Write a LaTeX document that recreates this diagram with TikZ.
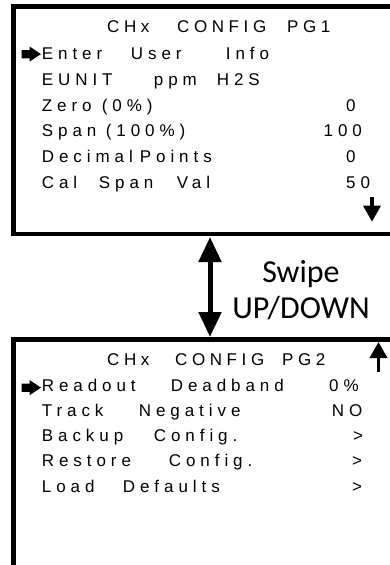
\documentclass[tikz,border=0pt]{standalone}
\usepackage{fontspec}
\setmainfont{Liberation Sans}
\newfontfamily\lcdfont[LetterSpace=29]{Liberation Sans}
\newfontfamily\lcdtitlefont[LetterSpace=27]{Liberation Sans}
\newfontfamily\swipefont{Carlito}
\newcommand\lcdword[2]{\makebox[#1pt][l]{#2}}
\usetikzlibrary{arrows.meta}

\tikzset{
  screen/.style={line width=4.6pt},
  row/.style={anchor=base west,inner sep=0pt,font=\lcdfont\fontsize{17}{20}\selectfont},
  title/.style={anchor=base west,inner sep=0pt,font=\lcdtitlefont\fontsize{17}{20}\selectfont},
  swipe/.style={line width=5pt,
    {Triangle[width=22pt,length=25pt]}-{Triangle[width=22pt,length=25pt]}},
  scroll/.style={line width=3.5pt,-{Triangle[width=17pt,length=16pt]}},
  pointer/.style={fill=black},
}

\begin{document}
\begin{tikzpicture}[x=1pt,y=-1pt]
\useasboundingbox (0,0) rectangle (390,565);
\clip (0,0) rectangle (390,565);

% the two screens, cut off at the right
\draw[screen] (400,6.7) -- (13.7,6.7) -- (13.7,234) -- (400,234);
\draw[screen] (400,339.5) -- (13.7,339.5) -- (13.7,580);

% page 1
\node[title] (title1) at (107,32.3) {\lcdword{70}{CHx}\lcdword{110}{CONFIG}PG1};
\fill[pointer] (21.7,50) -- (29.5,50) -- (29.5,46.5) -- (41,54.1) -- (29.5,61.7) -- (29.5,58.3) -- (21.7,58.3) -- cycle;
\node[row] (user)   at (41.7,59.3)  {\lcdword{89}{Enter}\lcdword{95}{User}Info};
\node[row] (eunit)  at (41.7,85.5)  {\lcdword{112}{EUNIT}\lcdword{63}{ppm}H2S};
\node[row] (zero)   at (41.7,111)   {\lcdword{60}{Zero}(0\%)};
\node[row] (zeroV)  at (346,111)    {0};
\node[row] (span)   at (41.7,136.5) {\lcdword{64}{Span}(100\%)};
\node[row] (spanV)  at (323.5,136.5) {100};
\node[row] (dec)    at (41.7,162.5) {\lcdword{98}{Decimal}Points};
\node[row] (decV)   at (346,162.5)  {0};
\node[row] (cal)    at (41.7,188.3) {\lcdword{57}{Cal}\lcdword{78}{Span}Val};
\node[row] (calV)   at (346,188.3)  {50};
\coordinate (downA) at (372,197);
\coordinate (downB) at (372,221.7);
\draw[scroll] (downA) -- (downB);

% swipe between the pages
\coordinate (top) at (210,237);
\coordinate (bot) at (210,337);
\draw[swipe] (top) -- (bot);
\node[anchor=base,inner sep=0pt,font=\swipefont\fontsize{32}{36}\selectfont] (swp) at (301,282) {Swipe};
\node[anchor=base,inner sep=0pt,font=\swipefont\fontsize{32}{36}\selectfont] (updn) at (301,318) {UP/DOWN};

% page 2
\coordinate (upA) at (378.5,371.7);
\coordinate (upB) at (378.5,342);
\draw[scroll] (upA) -- (upB);
\node[title] (title2) at (107,365) {\lcdword{68}{CHx}\lcdword{107}{CONFIG}PG2};
\fill[pointer] (21.7,383.5) -- (29.5,383.5) -- (29.5,380) -- (41,387.6) -- (29.5,395.2) -- (29.5,391.8) -- (21.7,391.8) -- cycle;
\node[row] (dead)    at (41.7,391)   {\lcdword{129}{Readout}Deadband};
\node[row] (deadV)   at (329,391)    {0\%};
\node[row] (track)   at (41.7,416)   {\lcdword{97}{Track}Negative};
\node[row] (trackV)  at (331.7,416)  {NO};
\node[row] (backup)  at (41.7,441)   {\lcdword{112}{Backup}Config.};
\node[row] (backupV) at (353,441)    {>};
\node[row] (restore) at (41.7,466.5) {\lcdword{127}{Restore}Config.};
\node[row] (restoreV) at (352,466.5) {>};
\node[row] (load)    at (41.7,492)   {\lcdword{81}{Load}Defaults};
\node[row] (loadV)   at (352,492)    {>};
\end{tikzpicture}
\end{document}
